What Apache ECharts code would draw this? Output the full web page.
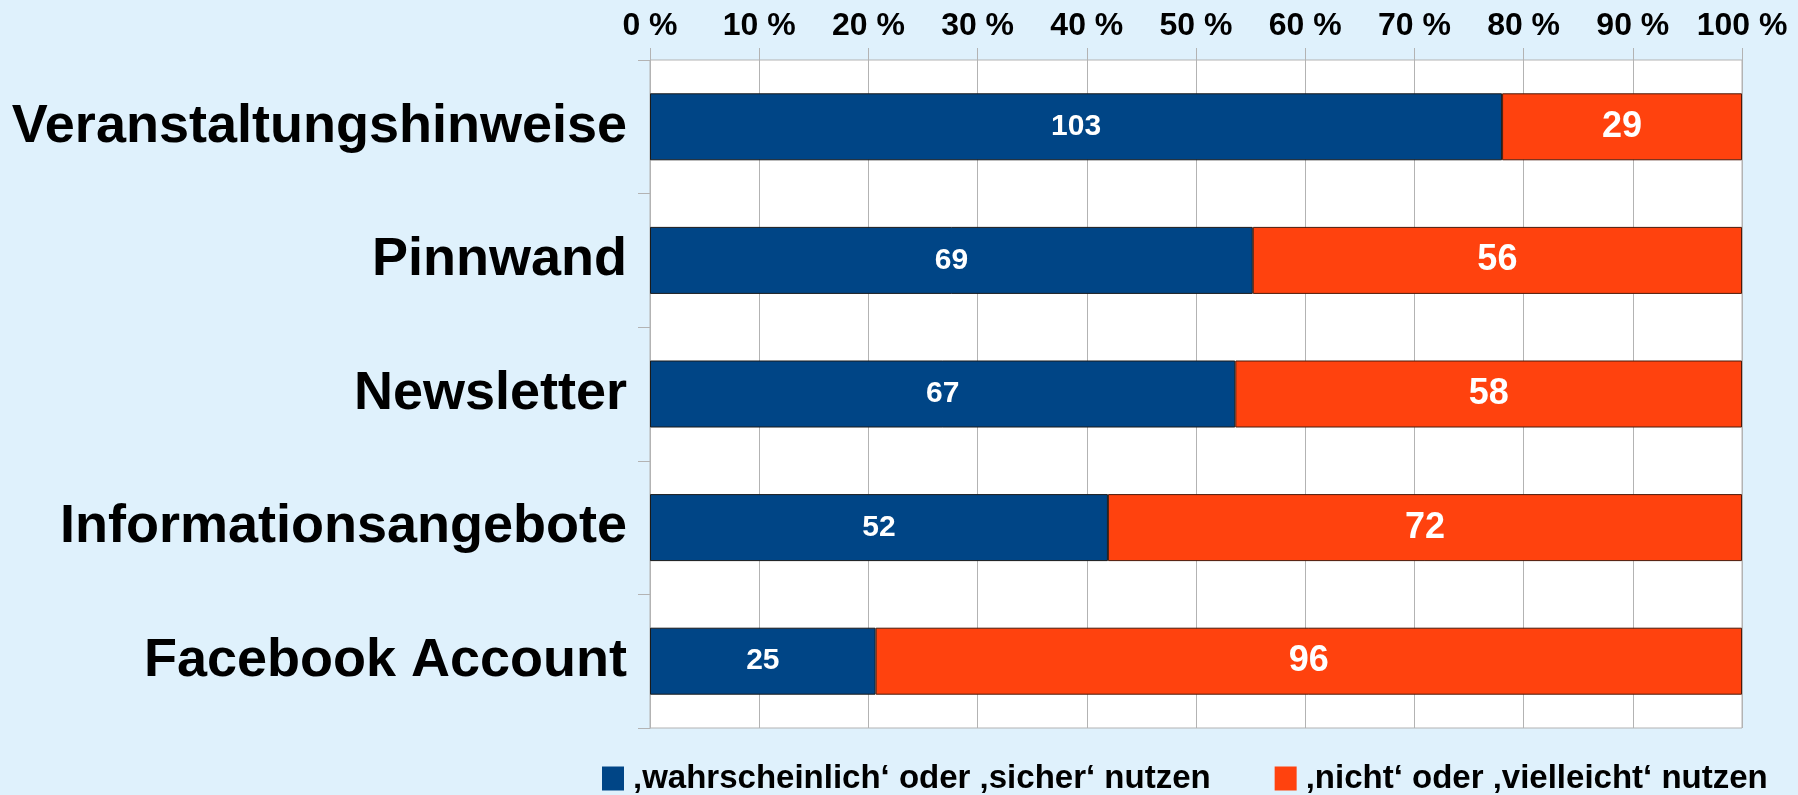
<!DOCTYPE html>
<html>
<head>
<meta charset="utf-8">
<script src="https://cdn.jsdelivr.net/npm/echarts@6/dist/echarts.min.js"></script>
<style>
html,body{margin:0;padding:0;background:#dff1fc;}
#chart{width:1798px;height:795px;}
</style>
</head>
<body>
<div id="chart"></div>
<script>
const categories = ['Veranstaltungshinweise', 'Pinnwand', 'Newsletter', 'Informationsangebote', 'Facebook Account'];
const seriesNames = ['\u201Awahrscheinlich\u2018 oder \u201Asicher\u2018 nutzen', '\u201Anicht\u2018 oder \u201Avielleicht\u2018 nutzen'];
const likelyCounts = [103, 69, 67, 52, 25];
const notCounts = [29, 56, 58, 72, 96];
const tickLabels = ['0 %', '10 %', '20 %', '30 %', '40 %', '50 %', '60 %', '70 %', '80 %', '90 %', '100 %'];

const totals = likelyCounts.map((v, i) => v + notCounts[i]);
const toData = arr => arr.map((v, i) => ({ value: v / totals[i] * 100, count: v }));

const chart = echarts.init(document.getElementById('chart'), null, { renderer: 'canvas' });
const FONT = '"Liberation Sans", Arial, sans-serif';
chart.setOption({
  backgroundColor: '#dff1fc',
  animation: false,
  grid: {
    left: 650, right: 56, top: 60, bottom: 67,
    show: true, backgroundColor: '#ffffff', borderColor: '#b3b3b3', borderWidth: 1,
    containLabel: false
  },
  legend: {
    left: 597, top: 757,
    itemWidth: 22, itemHeight: 24, itemGap: 64,
    icon: 'rect',
    itemStyle: { borderWidth: 0 },
    textStyle: { fontFamily: FONT, fontWeight: 'bold', fontSize: 33, color: '#000', padding: [0, 0, 0, 4] },
    data: seriesNames
  },
  xAxis: {
    type: 'value', position: 'top', min: 0, max: 100, interval: 10,
    axisLine: { show: false },
    axisTick: { show: true, length: 12, lineStyle: { color: '#b3b3b3' } },
    splitLine: { show: true, lineStyle: { color: '#b3b3b3', width: 1 } },
    axisLabel: {
      margin: 18,
      formatter: v => tickLabels[Math.round(v / 10)],
      fontFamily: FONT, fontWeight: 'bold', fontSize: 32, color: '#000'
    }
  },
  yAxis: {
    type: 'category', inverse: true, data: categories,
    axisLine: { show: true, lineStyle: { color: '#b3b3b3' } },
    axisTick: { show: true, length: 12, lineStyle: { color: '#b3b3b3' } },
    axisLabel: { margin: 23, fontFamily: FONT, fontWeight: 'bold', fontSize: 54, color: '#000' }
  },
  series: [
    {
      name: seriesNames[0], type: 'bar', stack: 'total', barWidth: 67,
      data: toData(likelyCounts),
      itemStyle: { color: '#004586', borderColor: '#1a1a1a', borderWidth: 1 },
      label: {
        show: true, position: 'inside', formatter: p => p.data.count,
        fontFamily: FONT, fontWeight: 'bold', fontSize: 30, color: '#fff'
      }
    },
    {
      name: seriesNames[1], type: 'bar', stack: 'total', barWidth: 67,
      data: toData(notCounts),
      itemStyle: { color: '#ff420e', borderColor: '#4a1a0a', borderWidth: 1 },
      label: {
        show: true, position: 'inside', formatter: p => p.data.count,
        fontFamily: FONT, fontWeight: 'bold', fontSize: 36, color: '#fff'
      }
    }
  ]
});
</script>
</body>
</html>
